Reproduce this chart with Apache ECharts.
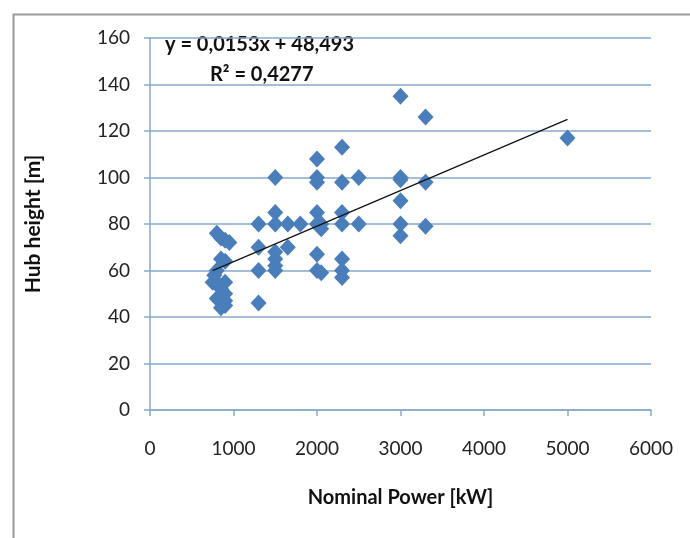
<!DOCTYPE html>
<html><head><meta charset="utf-8">
<script src="https://cdn.jsdelivr.net/npm/echarts@6/dist/echarts.min.js"></script>
<style>html,body{margin:0;padding:0;background:#fff}#c{width:690px;height:538px}</style>
</head><body><div id="c"></div>
<script>
var powerKW = [800,850,900,950,850,900,800,750,800,900,850,900,800,900,850,900,770,
  1300,1300,1300,1300,
  1500,1500,1500,1500,1500,1500,1500,1650,1650,1800,
  2000,2000,2000,2000,2050,2000,2050,2000,2000,2050,
  2300,2300,2300,2300,2300,2300,2300,
  2500,2500,
  3000,3000,3000,3000,3000,3000,
  3300,3300,3300,
  5000];
var hubHeight = [76,74,73,72,65,64,60,55,55,55,52,50,48,47,44,45,58,
  80,70,60,46,
  100,85,80,68,65,62,60,80,70,80,
  108,100,98,85,80,80,78,67,60,59,
  113,98,85,80,65,60,57,
  100,80,
  135,100,90,80,75,99,
  126,98,79,
  117];
var trendSlope = 0.0153, trendIntercept = 48.493;
var trendLabel = ["y = 0,0153x + 48,493", "R² = 0,4277"];
var xTicks = [0,1000,2000,3000,4000,5000,6000];
var yTicks = [0,20,40,60,80,100,120,140,160];

var pts = powerKW.map(function(x,i){return [x,hubHeight[i]];});
var xmin = Math.min.apply(null,powerKW), xmax = Math.max.apply(null,powerKW);
var trend = [[xmin, trendSlope*xmin+trendIntercept],[xmax, trendSlope*xmax+trendIntercept]];

var chart = echarts.init(document.getElementById('c'));
var lineCol = '#86a9cc';
var font = 'Lato, "Open Sans", sans-serif';
chart.setOption({
  animation:false,
  backgroundColor:'#fff',
  grid:{left:150,right:39,top:38,bottom:128},
  xAxis:{type:'value',min:xTicks[0],max:xTicks[xTicks.length-1],interval:xTicks[1]-xTicks[0],
    axisLine:{show:true,onZero:false,lineStyle:{color:lineCol,width:1.5}},
    axisTick:{show:true,length:6,lineStyle:{color:lineCol,width:1.5}},
    splitLine:{show:false},
    axisLabel:{color:'#222',fontSize:19,fontFamily:font,margin:29,formatter:function(v){return String(v);}},
    name:'Nominal Power [kW]',nameLocation:'middle',nameGap:78,
    nameTextStyle:{color:'#111',fontSize:20,fontWeight:'bold',fontFamily:font}},
  yAxis:{type:'value',min:yTicks[0],max:yTicks[yTicks.length-1],interval:yTicks[1]-yTicks[0],
    axisLine:{show:true,lineStyle:{color:lineCol,width:1.5}},
    axisTick:{show:true,length:6,lineStyle:{color:lineCol,width:1.5}},
    splitLine:{show:true,lineStyle:{color:lineCol,width:1.5}},
    axisLabel:{color:'#222',fontSize:19,fontFamily:font,margin:20},
    name:'Hub height [m]',nameLocation:'middle',nameGap:106,nameRotate:90,
    nameTextStyle:{color:'#111',fontSize:21,fontWeight:'bold',fontFamily:font}},
  graphic:[
    {type:'rect',left:11,top:12,shape:{width:720,height:600},
     style:{fill:'none',stroke:'#9a9a9a',lineWidth:2},silent:true,z:-1},
    {type:'text',left:165,top:35,style:{text:trendLabel[0],fill:'#111',font:'bold 20px '+font}},
    {type:'text',left:210,top:65,style:{text:trendLabel[1],fill:'#111',font:'bold 20px '+font}}
  ],
  series:[
    {type:'scatter',data:pts,symbol:'diamond',symbolSize:[16,17],
     itemStyle:{color:'#4a7ebb',opacity:1},z:2},
    {type:'line',data:trend,symbol:'none',lineStyle:{color:'#111',width:1.2},z:3}
  ]
});
</script></body></html>
